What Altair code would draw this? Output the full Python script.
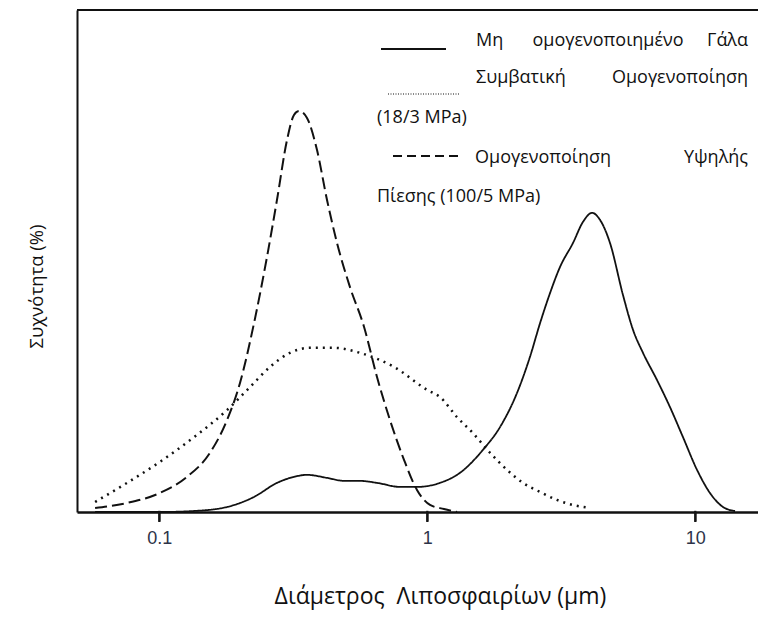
import altair as alt
import pandas as pd

# ---- data (diameter in µm, frequency in arbitrary % units)
high_d = [0.0576, 0.0758, 0.1006, 0.1269, 0.1546, 0.1789, 0.2000, 0.2256, 0.2522, 0.2749,
          0.2996, 0.3180, 0.3321, 0.3557, 0.3877, 0.4223, 0.4603, 0.5146, 0.5805, 0.6491,
          0.7258, 0.8186, 0.9152, 1.0235, 1.154, 1.291]
high_v = [0.08, 0.18, 0.38, 0.70, 1.18, 1.83, 2.57, 3.76, 5.08, 6.22,
          7.41, 7.91, 7.99, 7.85, 7.21, 6.22, 5.36, 4.48, 3.69, 2.69,
          1.83, 1.04, 0.44, 0.14, 0.06, 0.0]

conv_d = [0.0576, 0.0758, 0.1006, 0.1347, 0.1789, 0.2181, 0.2588, 0.3074, 0.3650, 0.4486,
          0.5609, 0.7511, 1.0, 1.115, 1.291, 1.481, 1.714, 1.983, 2.275, 2.634,
          3.048, 3.497, 4.047]
conv_v = [0.20, 0.58, 1.00, 1.49, 2.03, 2.49, 2.89, 3.17, 3.27, 3.27,
          3.17, 2.89, 2.43, 2.29, 1.89, 1.57, 1.18, 0.84, 0.58, 0.40,
          0.24, 0.14, 0.08]

raw_d = [0.0576, 0.1006, 0.1347, 0.1789, 0.2256, 0.2749, 0.3180, 0.3557, 0.4223, 0.4888,
         0.5609, 0.6491, 0.7909, 0.9152, 1.115, 1.324, 1.614, 1.867, 2.161, 2.416,
         2.634, 2.870, 3.127, 3.497, 3.811, 4.118, 4.410, 4.805, 5.374, 5.855,
         6.381, 7.195, 8.046, 8.999, 10.15, 11.34, 12.69, 14.07]
raw_v = [0.0, 0.0, 0.02, 0.10, 0.30, 0.58, 0.70, 0.74, 0.68, 0.62,
         0.62, 0.58, 0.50, 0.50, 0.58, 0.78, 1.24, 1.69, 2.37, 3.09,
         3.76, 4.36, 4.88, 5.36, 5.78, 5.96, 5.82, 5.36, 4.32, 3.63,
         3.17, 2.63, 2.09, 1.49, 0.84, 0.38, 0.10, 0.02]

x_ticks = [0.1, 1, 10]
x_title = "Διάμετρος\u00a0 Λιποσφαιρίων (μm)"
y_title = "Συχνότητα (%)"

W, H = 681, 502
X_DOMAIN = [0.0493, 17.14]
Y_DOMAIN = [0, 10]
INK = "#111111"

xs = alt.Scale(type="log", domain=X_DOMAIN, nice=False)
ys = alt.Scale(domain=Y_DOMAIN, nice=False, zero=True)

x_axis = alt.Axis(values=x_ticks, format="~g", grid=False, domain=True, domainWidth=2.5,
                  domainColor=INK, ticks=True, tickColor=INK, tickWidth=2, tickSize=9,
                  labelFont="Liberation Sans", labelFontSize=18, labelColor="#2d3348",
                  labelPadding=8,
                  title=x_title, titleFont="Open Sans", titleFontSize=23,
                  titleFontWeight="normal", titleColor=INK, titleX=363, titleY=91,
                  titleAlign="center", titleBaseline="alphabetic")
y_axis = alt.Axis(grid=False, ticks=False, labels=False, domain=True, domainWidth=2,
                  domainColor=INK,
                  title=y_title, titleFont="Open Sans", titleFontSize=18.5,
                  titleFontWeight="normal", titleColor=INK, titleAngle=-90, titleX=-35,
                  titleY=276, titleAlign="center", titleBaseline="alphabetic")


def curve(d, v, dash, width):
    df = pd.DataFrame({"d": d, "v": v})
    return alt.Chart(df).mark_line(color=INK, strokeWidth=width, strokeDash=dash,
                                   interpolate="monotone").encode(
        x=alt.X("d:Q", scale=xs, axis=x_axis),
        y=alt.Y("v:Q", scale=ys, axis=y_axis),
    )


one = alt.Data(values=[{}])


def rule(x1, x2, y, dash, width):
    return alt.Chart(one).mark_rule(color=INK, strokeWidth=width, strokeDash=dash).encode(
        x=alt.value(x1), x2=alt.value(x2), y=alt.value(y))


def txt(t, x, y, align="left"):
    return alt.Chart(one).mark_text(text=t, font="Open Sans", fontSize=18, color=INK,
                                    align=align, baseline="alphabetic").encode(
        x=alt.value(x), y=alt.value(y))


tick_df = pd.DataFrame({"t": x_ticks})
# tick marks at the x axis, placed through the x scale (start hidden under the axis line)
tick_rules = alt.Chart(tick_df).mark_rule(color="#141414", strokeWidth=2.2).encode(
    x=alt.X("t:Q", scale=xs, axis=x_axis), y=alt.value(H - 1.2), y2=alt.value(H + 10))

layers = [
    curve(raw_d, raw_v, [1, 0], 1.8),
    curve(conv_d, conv_v, [2, 5], 2.5),
    curve(high_d, high_v, [12, 5], 2),
    # top frame line
    rule(0, W, 0, [1, 0], 2),
    # legend symbols
    rule(304, 369, 39, [1, 0], 2),
    rule(311, 382, 84, [1, 1.5], 1),
    rule(316, 381, 146, [9, 5], 2),
    # legend texts
    txt("Μη", 399, 36),
    txt("ομογενοποιημένο", 531, 36, "center"),
    txt("Γάλα", 671, 36, "right"),
    txt("Συμβατική", 399, 73),
    txt("Ομογενοποίηση", 671, 73, "right"),
    txt("(18/3 MPa)", 300, 113),
    txt("Ομογενοποίηση", 398, 153),
    txt("Υψηλής", 671, 153, "right"),
    txt("Πίεσης (100/5 MPa)", 300, 192),
    tick_rules,
]

chart = alt.layer(*layers).properties(
    width=W, height=H,
    autosize=alt.AutoSizeParams(type="none"),
    padding={"left": 69, "top": 2, "right": 0, "bottom": 99},
    background="white",
).configure_view(strokeWidth=0)

chart.save("out.html", embed_options={"renderer": "svg", "actions": False})
